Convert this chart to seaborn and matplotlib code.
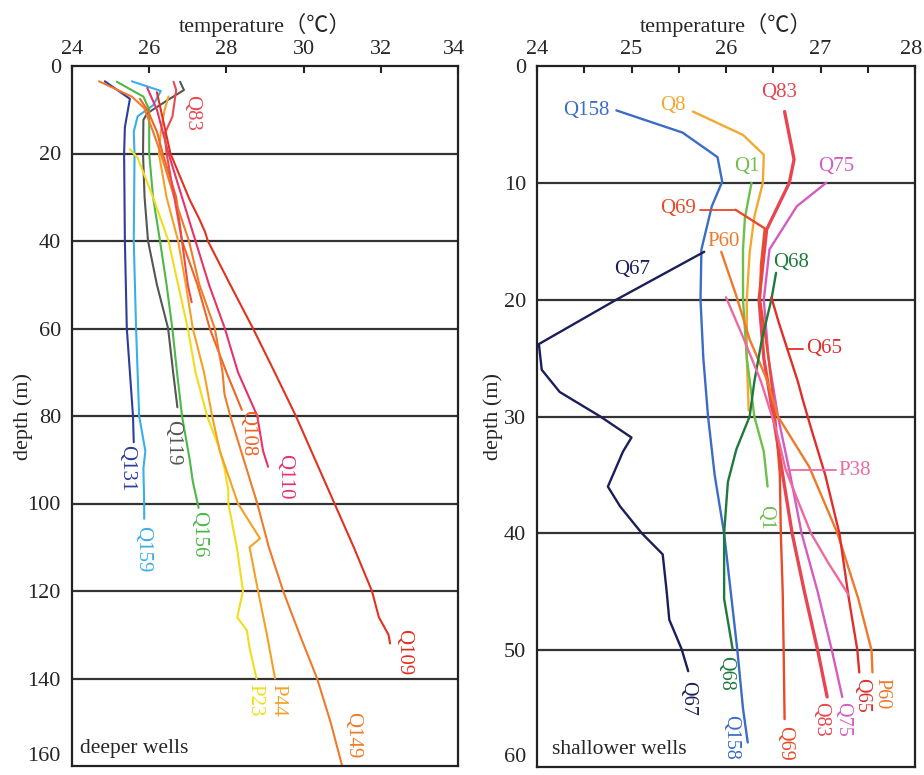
import numpy as np
import seaborn as sns
import matplotlib.pyplot as plt
from matplotlib.transforms import ScaledTranslation

sns.set_style("white")
plt.rcParams['font.family'] = ['Liberation Serif', 'Noto Sans CJK SC', 'DejaVu Sans']

# ---- deeper wells (temperature degC, depth m) ----
deep_names = ['Q131', 'Q159', 'Q119', 'Q156', 'P23', 'P44', 'Q108', 'Q149', 'Q110', 'Q83', 'Q109']
deep_colors = ['#2e3c9c', '#3aaee8', '#555555', '#4cb848', '#f2dc1c', '#f5a024',
               '#f06424', '#f07a2a', '#e8336a', '#e84a50', '#e0321e']
deep_depth = {
    'Q131': [3.5, 7.5, 10, 14, 20, 40, 60, 70, 80, 86],
    'Q159': [3.5, 5.7, 9, 11.5, 15, 20, 40, 60, 80, 88, 92, 100, 103.5],
    'Q119': [3.6, 5.5, 7.4, 10.8, 12.3, 20, 30, 40, 50, 60, 70, 78],
    'Q156': [3.6, 7, 10, 20, 30, 40, 50, 60, 70, 80, 90, 95, 101],
    'P23': [19, 21, 30, 40, 50, 60, 70, 80, 87, 92, 97, 100, 110, 120, 126, 129, 133, 140],
    'P44': [7, 10, 15, 20, 30, 40, 50, 60, 70, 80, 88, 100, 108, 110, 120, 130, 140],
    'Q108': [7.5, 10, 15, 20, 30, 40, 50, 60, 70, 78.6],
    'Q149': [3.5, 7, 9.6, 15, 20, 30, 40, 50, 60, 70, 75, 80, 90, 100, 110, 120, 130, 140, 150, 160],
    'Q110': [5, 10, 20, 30, 40, 50, 60, 70, 80, 88, 91.6],
    'Q83': [3.6, 5.5, 11.6, 15.5, 20, 30, 40, 50, 54],
    'Q109': [6, 10, 20, 30.6, 35, 38, 40, 50, 60, 70, 80, 90, 100, 110, 120, 126, 130, 132],
}
deep_temp = {
    'Q131': [24.85, 25.5, 25.45, 25.37, 25.35, 25.37, 25.42, 25.5, 25.58, 25.6],
    'Q159': [25.55, 26.3, 26.1, 25.7, 25.6, 25.62, 25.6, 25.66, 25.74, 25.9, 25.85, 25.87, 25.87],
    'Q119': [26.8, 26.9, 26.55, 25.95, 25.85, 25.84, 25.88, 25.97, 26.2, 26.49, 26.62, 26.73],
    'Q156': [25.16, 25.85, 26.0, 26.0, 26.1, 26.28, 26.45, 26.6, 26.72, 26.85, 27.05, 27.13, 27.28],
    'P23': [25.5, 25.7, 26.1, 26.5, 26.75, 27.0, 27.2, 27.5, 27.8, 27.95, 28.05, 28.05, 28.27, 28.43, 28.28, 28.53, 28.6, 28.78],
    'P44': [26.5, 26.4, 26.3, 26.25, 26.45, 26.75, 26.95, 27.13, 27.42, 27.63, 27.83, 28.3, 28.87, 28.6, 28.82, 29.05, 29.26],
    'Q108': [25.76, 25.95, 26.2, 26.35, 26.7, 26.85, 27.25, 27.57, 28.0, 28.4],
    'Q149': [24.7, 25.55, 25.87, 26.1, 26.3, 26.65, 27.03, 27.3, 27.7, 27.9, 27.95, 28.1, 28.45, 28.8, 29.1, 29.47, 29.9, 30.35, 30.7, 31.0],
    'Q110': [25.95, 26.2, 26.5, 26.85, 27.2, 27.55, 27.96, 28.3, 28.8, 28.95, 29.08],
    'Q83': [26.63, 26.7, 26.6, 26.4, 26.45, 26.65, 26.85, 27.0, 27.1],
    'Q109': [26.2, 26.3, 26.55, 27.05, 27.3, 27.45, 27.52, 28.1, 28.69, 29.25, 29.8, 30.3, 30.8, 31.3, 31.77, 31.95, 32.2, 32.24],
}
# label positions (temperature, depth), written downward
deep_label_t = [25.42, 25.84, 26.6, 27.27, 28.74, 29.33, 28.56, 31.28, 29.5, 27.1, 32.6]
deep_label_d = [92, 110.4, 86, 107, 145, 145, 84, 153, 94, 10.8, 134]

# ---- shallower wells ----
shal_names = ['Q158', 'Q8', 'Q1', 'Q83', 'Q75', 'Q69', 'P60', 'Q68', 'Q65', 'P38', 'Q67']
shal_colors = ['#3a6cc8', '#f5a830', '#6cc04a', '#e84550', '#d45cc0', '#e84a2a',
               '#f0782a', '#1e7a3c', '#e02e2a', '#ec6aa0', '#1c1e5a']
shal_depth = {
    'Q158': [3.8, 5.7, 7.8, 9.9, 12, 15.7, 20, 25, 30, 35, 40, 45, 50, 55, 57.9],
    'Q8': [3.9, 5.9, 7.6, 10, 12.9, 16, 20, 25, 29.5],
    'Q1': [10, 13, 15.7, 20, 25, 30, 33, 36],
    'Q83': [3.9, 8, 10, 14, 20, 25, 30, 35, 40, 45, 50, 54],
    'Q75': [10, 12, 15.7, 20, 25, 30, 35, 40, 45, 50, 54],
    'Q69': [12.3, 13.9, 17, 20, 25, 30, 35, 40, 45, 50, 55.9],
    'P60': [15.9, 19.7, 23.4, 26.8, 30, 34.3, 40, 45.6, 50, 51.9],
    'Q68': [17.7, 20, 23.4, 27, 30, 32.8, 35.6, 40, 45.6, 49.9],
    'Q65': [19.8, 22, 24, 27, 28.5, 31, 35, 40, 45.6, 50, 51.9],
    'P38': [19.8, 23, 27, 31.1, 34.5, 37, 40, 42.5, 45.3],
    'Q67': [15.9, 20, 23.8, 26, 27.9, 30, 31.8, 33, 36, 37.7, 40, 41.8, 44.8, 47.4, 49.9, 51.8],
}
shal_temp = {
    'Q158': [24.84, 25.54, 25.91, 25.96, 25.85, 25.74, 25.73, 25.76, 25.81, 25.88, 25.98, 26.05, 26.12, 26.18, 26.23],
    'Q8': [25.65, 26.18, 26.4, 26.39, 26.3, 26.25, 26.22, 26.22, 26.24],
    'Q1': [26.27, 26.2, 26.18, 26.18, 26.22, 26.3, 26.4, 26.44],
    'Q83': [26.62, 26.72, 26.67, 26.43, 26.35, 26.4, 26.5, 26.6, 26.7, 26.83, 26.97, 27.07],
    'Q75': [27.06, 26.75, 26.46, 26.4, 26.45, 26.55, 26.68, 26.8, 26.97, 27.12, 27.23],
    'Q69': [26.1, 26.41, 26.37, 26.36, 26.45, 26.52, 26.57, 26.58, 26.6, 26.61, 26.62],
    'P60': [25.95, 26.11, 26.25, 26.43, 26.55, 26.88, 27.18, 27.4, 27.54, 27.55],
    'Q68': [26.53, 26.48, 26.38, 26.3, 26.25, 26.11, 26.02, 25.98, 25.98, 26.07],
    'Q65': [26.48, 26.56, 26.64, 26.76, 26.81, 26.9, 27.05, 27.2, 27.3, 27.39, 27.41],
    'P38': [26.0, 26.17, 26.37, 26.53, 26.63, 26.75, 26.9, 27.08, 27.3],
    'Q67': [25.77, 24.84, 24.02, 24.05, 24.24, 24.67, 25.0, 24.91, 24.75, 24.88, 25.11, 25.33, 25.37, 25.4, 25.53, 25.6],
}
# horizontal labels near the top of the curves
top_names = ['Q158', 'Q8', 'Q83', 'Q1', 'Q75', 'Q69', 'P60', 'Q67', 'Q68', 'Q65', 'P38']
top_t = [24.52, 25.44, 26.56, 26.22, 27.17, 25.49, 25.97, 25.01, 26.69, 27.04, 27.36]
top_d = [3.8, 3.4, 2.3, 8.6, 8.6, 12.2, 15.0, 17.4, 16.8, 24.2, 34.6]
# short leader lines from labels to curves
leader_names = ['Q69', 'Q65', 'P38']
leader_t = [[25.72, 26.1], [26.65, 26.82], [26.66, 27.16]]
leader_d = [[12.3, 12.3], [24.2, 24.2], [34.6, 34.6]]
# rotated labels at the bottom of the curves
bot_names = ['Q67', 'Q68', 'Q158', 'Q69', 'Q83', 'Q75', 'Q65', 'P60', 'Q1']
bot_t = [25.59, 26.0, 26.05, 26.62, 27.0, 27.23, 27.43, 27.65, 26.42]
bot_d = [54.1, 52.0, 57.5, 58.0, 55.9, 55.9, 53.9, 53.7, 38.6]

fig = plt.figure(figsize=(9.24, 7.75), dpi=100)
ax1 = fig.add_axes([72 / 924, 9 / 775, 386 / 924, 700 / 775])
ax2 = fig.add_axes([537 / 924, 8 / 775, 378 / 924, 701 / 775])

for name, col in zip(deep_names, deep_colors):
    sns.lineplot(x=deep_temp[name], y=deep_depth[name], sort=False, estimator=None,
                 color=col, lw=1.5, ax=ax1)
for name, col, t, d in zip(deep_names, deep_colors, deep_label_t, deep_label_d):
    ax1.text(t, d, name, color=col, rotation=-90, ha='center', va='center', fontsize=15)

shal_col = dict(zip(shal_names, shal_colors))
for name, col in zip(shal_names, shal_colors):
    lw = 2.4 if name == 'Q83' else 1.7
    sns.lineplot(x=shal_temp[name], y=shal_depth[name], sort=False, estimator=None,
                 color=col, lw=lw, ax=ax2)
for name, t, d in zip(leader_names, leader_t, leader_d):
    ax2.plot(t, d, color=shal_col[name], lw=1.3)
for name, t, d in zip(top_names, top_t, top_d):
    ax2.text(t, d, name, color=shal_col[name], ha='center', va='center', fontsize=15)
for name, t, d in zip(bot_names, bot_t, bot_d):
    ax2.text(t, d, name, color=shal_col[name], rotation=-90, ha='center', va='center', fontsize=14.5)

def style(ax, xlim, xticks, ylim, yticks, label_x, minor=None):
    ax.set_xlim(*xlim)
    ax.set_ylim(ylim, 0)
    ax.set_xticks(xticks)
    if minor is not None:
        ax.set_xticks(minor, minor=True)
    ax.set_yticks(yticks)
    ax.xaxis.tick_top()
    ax.xaxis.set_label_position('top')
    ax.tick_params(axis='x', which='both', direction='in', length=5, width=1.5,
                   top=True, bottom=False, labelsize=16, pad=5, color='#222222')
    ax.tick_params(axis='y', length=0, labelsize=16, pad=8)
    for y in yticks[1:-1]:
        ax.axhline(y, color='#333333', lw=1.6, zorder=0)
    for s in ax.spines.values():
        s.set_color('#222222')
        s.set_linewidth(1.6)
    ax.set_xlabel('temperature（℃）', fontsize=16, labelpad=6)
    ax.set_ylabel('depth (m)', fontsize=16)
    ax.yaxis.set_label_coords(label_x, 0.5)
    ax.get_yticklabels()[-1].set_va('bottom')

style(ax1, (24, 34), [24, 26, 28, 30, 32, 34], 160, list(range(0, 161, 20)), -0.10)
style(ax2, (24, 28), [24, 25, 26, 27, 28], 60, list(range(0, 61, 10)), -0.09,
      minor=np.arange(24.5, 28, 1.0))
# keep the last tick label of each panel inside the figure
for ax in (ax1, ax2):
    lbl = ax.get_xticklabels()[-1]
    lbl.set_transform(lbl.get_transform() + ScaledTranslation(-3 / 72, 0, fig.dpi_scale_trans))
ax1.text(0.022, 0.012, 'deeper wells', transform=ax1.transAxes, fontsize=15.5, va='bottom')
ax2.text(0.04, 0.012, 'shallower wells', transform=ax2.transAxes, fontsize=15.5, va='bottom')

fig.savefig('out.png', dpi=100)
